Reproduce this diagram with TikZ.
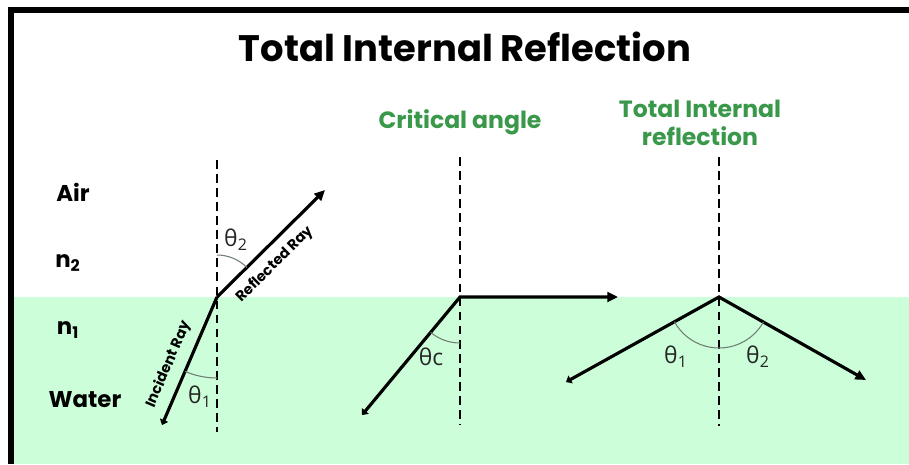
\documentclass[tikz,border=0pt]{standalone}
\usepackage{fontspec}
\setmainfont{Poppins}
\newfontfamily\grec{Open Sans}
\usetikzlibrary{arrows.meta,angles}

\definecolor{eau}{RGB}{204,255,217}
\definecolor{vert}{RGB}{58,152,74}
\definecolor{arc}{RGB}{110,125,115}

\begin{document}
\begin{tikzpicture}[x=0.02cm,y=-0.02cm,
  rayon/.style={line width=1.8pt},
  normale/.style={line width=1.1pt,dash pattern=on 5pt off 3pt},
  etiquette/.style={font=\bfseries\fontsize{13}{15}\selectfont},
  vertitre/.style={font=\bfseries\fontsize{13.4}{16}\selectfont,text=vert},
  texterayon/.style={font=\bfseries\fontsize{8.2}{9}\selectfont,sloped},
  angle/.style={font=\grec\fontsize{13}{15}\selectfont,text=black!85},
  arcangle/.style={draw=arc,line width=0.6pt},
  bout/.style={{Triangle[length=3pt,width=5pt]}-{Triangle[length=6pt,width=5.5pt]}},
  pointe/.style={-{Triangle[length=6pt,width=5.5pt]}}]

\useasboundingbox (0,0) rectangle (909,464);

% Eau
\fill[eau] (14,297) rectangle (909,464);

% Cadre
\draw[line width=3.4pt,line join=miter] (11,464) -- (11,10) -- (909,10);

% Titres
\node[font=\bfseries\fontsize{21}{24}\selectfont] (titre) at (465,47) {Total Internal Reflection};
\node[vertitre] (critique) at (460,122) {Critical angle};
\node[vertitre,align=center] (totale) at (700,123) {Total Internal\\reflection};

% Milieux
\node[etiquette] (air) at (73,192) {Air};
\node[etiquette] (ndeux) at (68,263) {n\textsubscript{2}};
\node[etiquette] (nun) at (68,330) {n\textsubscript{1}};
\node[etiquette] (water) at (85,400) {Water};

% Reflexion partielle
\coordinate (p1) at (217,297);
\coordinate (h1) at (217,160);
\coordinate (b1) at (217,432);
\coordinate (i1) at (162,425);
\coordinate (r1) at (325,190);
\draw[normale] (h1) -- (b1);
\draw[rayon,{Triangle[length=3pt,width=5pt]}-] (i1) -- node[pos=0.42,texterayon,above=1.5pt] (incident) {Incident Ray} (p1);
\draw[rayon,pointe] (p1) -- node[pos=0.42,texterayon,below=1.5pt] (reflechi) {Reflected Ray} (r1);
\pic[arcangle,angle radius=0.84cm] {angle=r1--p1--h1};
\pic[arcangle,angle radius=1.62cm] {angle=i1--p1--b1};
\node[angle] (tdeux) at (236,240) {θ\textsubscript{2}};
\node[angle] (tun) at (200,397) {θ\textsubscript{1}};

% Angle critique
\coordinate (p2) at (460,297);
\coordinate (h2) at (460,157);
\coordinate (b2) at (460,425);
\coordinate (i2) at (362,415);
\coordinate (r2) at (618,297);
\draw[normale] (h2) -- (b2);
\draw[rayon,bout] (i2) -- (p2) -- (r2);
\pic[arcangle,angle radius=0.92cm] {angle=i2--p2--b2};
\node[angle] (tc) at (431,357) {θc};

% Reflexion totale
\coordinate (p3) at (719,297);
\coordinate (h3) at (719,157);
\coordinate (b3) at (719,426);
\coordinate (i3) at (566,382);
\coordinate (r3) at (866,380);
\draw[normale] (h3) -- (b3);
\draw[rayon,bout] (i3) -- (p3) -- (r3);
\pic[arcangle,angle radius=1.02cm] {angle=i3--p3--r3};
\node[angle] (tunb) at (676,357) {θ\textsubscript{1}};
\node[angle] (tdeuxb) at (758,357) {θ\textsubscript{2}};

\end{tikzpicture}
\end{document}
